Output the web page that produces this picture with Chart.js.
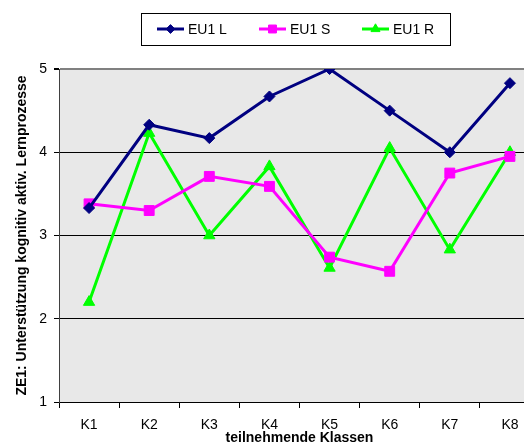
<!DOCTYPE html>
<html>
<head>
<meta charset="utf-8">
<script src="https://cdn.jsdelivr.net/npm/chart.js@4/dist/chart.umd.min.js"></script>
<style>
    html, body { margin: 0; padding: 0; background: #fff; overflow: hidden; }
    #wrap { width: 548px; height: 445px; }
</style>
</head>
<body>
<div id="wrap"><canvas id="chart" width="548" height="445"></canvas></div>
<script>
// Chart data
const classes = ['K1', 'K2', 'K3', 'K4', 'K5', 'K6', 'K7', 'K8'];
const eu1L = [3.33, 4.33, 4.17, 4.67, 5.0, 4.5, 4.0, 4.83];
const eu1S = [3.38, 3.3, 3.71, 3.59, 2.74, 2.57, 3.75, 3.95];
const eu1R = [2.2, 4.23, 3.0, 3.83, 2.61, 4.05, 2.83, 4.0];
const seriesNames = ['EU1 L', 'EU1 S', 'EU1 R'];
const seriesColors = ['#000080', '#ff00ff', '#00ff00'];
const seriesMarkers = ['rectRot', 'rect', 'triangle'];
const markerSizes = [5.5, 7, 6.5];

const FONT = 'Liberation Sans, Arial, sans-serif';

// Grey plot background
const plotBackground = {
    id: 'plotBackground',
    beforeDraw(chart) {
        const { ctx, chartArea: a } = chart;
        ctx.save();
        ctx.fillStyle = '#e8e8e8';
        ctx.fillRect(a.left, a.top, a.right - a.left, a.bottom - a.top);
        ctx.restore();
    }
};

// Excel style legend: boxed, line with marker
const boxLegend = {
    id: 'boxLegend',
    afterDraw(chart) {
        const ctx = chart.ctx;
        ctx.save();
        ctx.strokeStyle = '#000';
        ctx.lineWidth = 1;
        ctx.strokeRect(141.5, 13.5, 309, 32);
        ctx.font = '14px ' + FONT;
        ctx.textBaseline = 'middle';
        const starts = [157, 259, 362];
        chart.data.datasets.forEach((ds, i) => {
            const x = starts[i];
            const y = 29;
            ctx.strokeStyle = ds.borderColor;
            ctx.fillStyle = ds.borderColor;
            ctx.lineWidth = 3;
            ctx.beginPath();
            ctx.moveTo(x, y);
            ctx.lineTo(x + 27, y);
            ctx.stroke();
            ctx.lineWidth = 1;
            Chart.helpers.drawPoint(ctx, {
                pointStyle: ds.pointStyle,
                radius: ds.pointRadius * 0.8,
                borderWidth: 1
            }, x + 13.5, y);
            ctx.fillStyle = '#000';
            ctx.fillText(ds.label, x + 31, y + 1);
        });
        ctx.restore();
    }
};

const datasets = [eu1L, eu1S, eu1R].map((values, i) => ({
    label: seriesNames[i],
    data: values,
    borderColor: seriesColors[i],
    backgroundColor: seriesColors[i],
    pointBackgroundColor: seriesColors[i],
    pointBorderColor: seriesColors[i],
    pointStyle: seriesMarkers[i],
    pointRadius: markerSizes[i],
    pointBorderWidth: 1,
    borderWidth: 3,
    tension: 0
}));

new Chart(document.getElementById('chart'), {
    type: 'line',
    data: { labels: classes, datasets: datasets },
    options: {
        responsive: false,
        animation: false,
        events: [],
        layout: { padding: { top: 69, right: 3, left: 0, bottom: 0 } },
        plugins: {
            legend: { display: false },
            tooltip: { enabled: false }
        },
        scales: {
            x: {
                offset: true,
                grid: {
                    offset: true,
                    drawOnChartArea: false,
                    drawTicks: true,
                    tickLength: 6,
                    color: '#000'
                },
                border: { color: '#000', width: 1 },
                ticks: {
                    color: '#000',
                    font: { family: FONT, size: 14 },
                    padding: 9,
                    maxRotation: 0
                },
                title: {
                    display: true,
                    text: 'teilnehmende Klassen',
                    color: '#000',
                    font: { family: FONT, size: 14, weight: 'bold' },
                    padding: { top: -7, bottom: -2 }
                },
                afterFit(scale) { scale.height = 43; }
            },
            y: {
                min: 1,
                max: 5,
                ticks: {
                    stepSize: 1,
                    color: '#000',
                    font: { family: FONT, size: 14 },
                    padding: 7
                },
                grid: {
                    color: ctx => (ctx.tick && ctx.tick.value === 5) ? '#808080' : '#000',
                    lineWidth: ctx => (ctx.tick && ctx.tick.value === 5) ? 2 : 1,
                    tickLength: 5,
                    tickColor: '#000'
                },
                border: { color: '#404040', width: 1 },
                title: {
                    display: true,
                    text: 'ZE1: Unterstützung kognitiv aktiv. Lernprozesse',
                    color: '#000',
                    font: { family: FONT, size: 14, weight: 'bold' },
                    padding: { top: 14, bottom: 0 }
                },
                afterFit(scale) { scale.width = 59; }
            }
        }
    },
    plugins: [plotBackground, boxLegend]
});
</script>
</body>
</html>
